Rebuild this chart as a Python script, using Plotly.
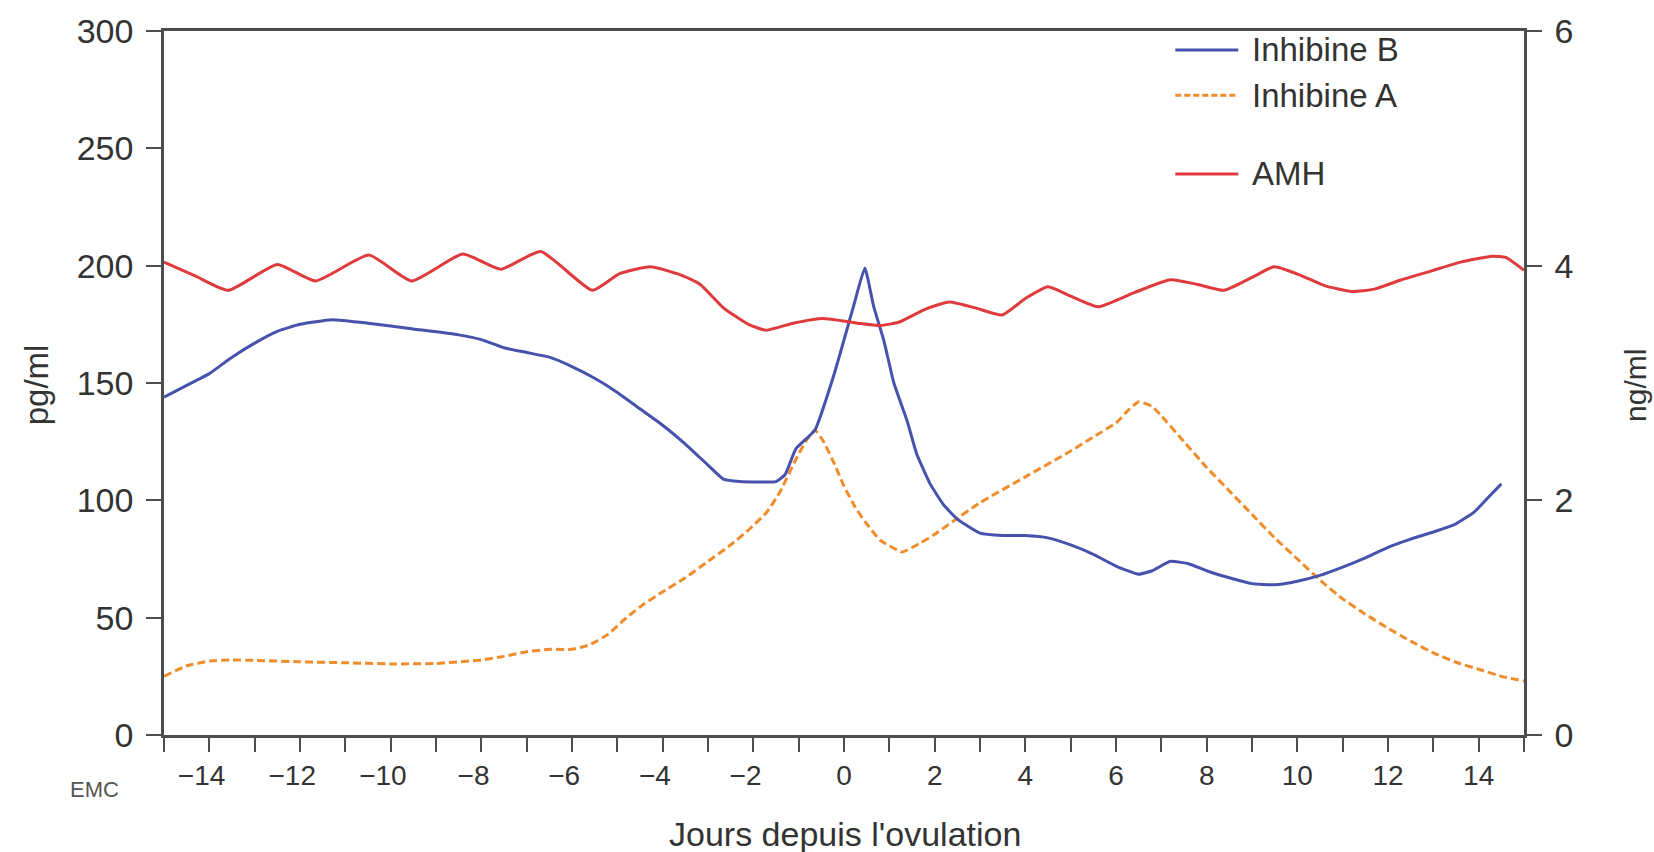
import plotly.graph_objects as go

# Days relative to ovulation and measured concentrations
inhb_days = [-15, -14.5, -14, -13.5, -13, -12.5, -12, -11.3, -10.5, -9.5, -8.5, -8, -7.5, -7,
             -6.5, -6, -5.5, -5, -4.5, -4, -3.5, -3, -2.66, -2.3, -1.5, -1.3, -1.06, -0.64,
             -0.22, 0.2, 0.46, 0.65, 0.88, 1.1, 1.39, 1.6, 1.9, 2.2, 2.5, 3.0, 3.5, 4.0, 4.5,
             5.0, 5.5, 6.0, 6.5, 6.8, 7.2, 7.6, 8.0, 8.5, 9.0, 9.5, 10.0, 10.5, 11.0, 11.5,
             12.0, 12.5, 13.0, 13.5, 13.9, 14.2, 14.5]
inhb_pgml = [144, 149, 154, 161, 167, 172, 175, 177, 175.5, 173, 170.5, 168.5, 165, 163,
             161, 157, 152, 146, 139, 132, 124, 115, 109, 108, 108, 111, 122, 130,
             153.6, 182, 199, 183, 168, 150, 134, 120, 107, 98, 92, 86, 85, 85, 84,
             81, 77, 72, 68.5, 70, 74, 73, 70, 67, 64.5, 64, 65.5, 68, 71.5, 75.5,
             80, 83.5, 86.5, 90, 95, 101, 107]

inha_days = [-15, -14.5, -14, -13.5, -13, -12, -11, -10, -9, -8, -7.5, -7, -6.5, -6, -5.6,
             -5.2, -4.8, -4.4, -4, -3.5, -3, -2.5, -2.07, -1.7, -1.4, -1.1, -0.85, -0.64,
             -0.45, -0.2, 0.0, 0.25, 0.46, 0.8, 1.28, 1.7, 2.0, 2.4, 3.0, 4.0, 5.0, 5.5,
             6.0, 6.3, 6.5, 6.8, 7.0, 7.5, 8.0, 8.5, 9.0, 9.5, 10.0, 10.5, 11.0, 11.5,
             12.0, 12.5, 13.0, 13.5, 14.0, 14.5, 15.0]
inha_pgml = [25, 29.5, 31.5, 32, 31.8, 31.2, 30.8, 30.3, 30.5, 32, 33.5, 35.5, 36.5, 36.5, 38.5,
             43, 50, 56, 61, 67, 74, 81, 88, 95, 104, 116, 125, 130,
             125, 115, 106, 97, 91, 83, 78, 82, 85.5, 91, 99, 110, 121, 127,
             133, 139, 142, 140, 136, 125, 114, 104, 94, 84, 75, 66, 58, 51.5,
             45.5, 40, 35, 31, 28, 25, 23]

amh_days = [-15, -14.3, -13.58, -12.5, -11.66, -10.48, -9.54, -8.41, -7.57, -6.69, -5.55,
            -4.96, -4.27, -3.59, -3.17, -2.66, -2.11, -1.72, -1.12, -0.47, 0.3, 0.8, 1.22,
            1.8, 2.32, 2.9, 3.49, 4.0, 4.5, 5.0, 5.6, 6.4, 7.2, 7.8, 8.38, 9.0, 9.49, 10.06,
            10.6, 11.2, 11.7, 12.3, 13.0, 13.6, 14.3, 14.6, 15.0]
amh_ngml = [4.03, 3.91, 3.79, 4.01, 3.87, 4.09, 3.87, 4.10, 3.97, 4.12, 3.79,
            3.93, 3.99, 3.92, 3.84, 3.64, 3.50, 3.45, 3.51, 3.55, 3.51, 3.49, 3.52,
            3.63, 3.69, 3.64, 3.58, 3.72, 3.82, 3.74, 3.65, 3.77, 3.88, 3.84, 3.79, 3.90, 3.99, 3.92,
            3.83, 3.78, 3.80, 3.88, 3.96, 4.03, 4.08, 4.07, 3.96]

series_names = ["Inhibine B", "Inhibine A", "AMH"]
x_tickvals = [-14, -12, -10, -8, -6, -4, -2, 0, 2, 4, 6, 8, 10, 12, 14]
# Negative labels are centred on their digits, so the minus sign hangs to the left
x_ticktext = [("\u2212%d\u00a0\u00a0" % -v) if v < 0 else str(v) for v in x_tickvals]

BLUE = "#4652ad"
ORANGE = "#ef8c2c"
RED = "#e03a3c"
AXIS = "#4d4d4d"
TEXT = "#333333"
FONT = "Liberation Sans, Arial, sans-serif"

fig = go.Figure()
fig.add_trace(go.Scatter(x=inha_days, y=inha_pgml, mode="lines", name=series_names[1],
                         line=dict(color=ORANGE, width=3, dash="8px,4px", shape="spline", smoothing=0.4),
                         showlegend=False))
fig.add_trace(go.Scatter(x=inhb_days, y=inhb_pgml, mode="lines", name=series_names[0],
                         line=dict(color=BLUE, width=3, shape="spline", smoothing=0.4),
                         showlegend=False))
fig.add_trace(go.Scatter(x=amh_days, y=amh_ngml, mode="lines", name=series_names[2], yaxis="y2",
                         line=dict(color=RED, width=3, shape="spline", smoothing=0.5),
                         showlegend=False))

fig.update_layout(
    width=1654, height=852,
    margin=dict(l=164, r=130, t=28, b=117),
    paper_bgcolor="white", plot_bgcolor="white",
    xaxis=dict(range=[-15, 15], tickmode="array", tickvals=x_tickvals, ticktext=x_ticktext,
               ticks="outside", ticklen=14, tickwidth=2, tickcolor=AXIS,
               minor=dict(dtick=1, tick0=0, ticks="outside", ticklen=14, tickwidth=2, tickcolor=AXIS),
               showline=True, linecolor=AXIS, linewidth=2.5, mirror=True,
               showgrid=False, zeroline=False,
               tickfont=dict(family=FONT, size=28, color=TEXT)),
    yaxis=dict(range=[0, 300], dtick=50, ticks="outside", ticklen=15, tickwidth=2, tickcolor=AXIS,
               showline=True, linecolor=AXIS, linewidth=2.5, showgrid=False, zeroline=False,
               ticklabelstandoff=6,
               tickfont=dict(family=FONT, size=34, color=TEXT)),
    yaxis2=dict(range=[0, 6], dtick=2, overlaying="y", side="right",
                ticks="outside", ticklen=15, tickwidth=2, tickcolor=AXIS,
                showline=True, linecolor=AXIS, linewidth=2.5, showgrid=False, zeroline=False,
                ticklabelstandoff=6,
                tickfont=dict(family=FONT, size=34, color=TEXT)),
)

# Axis titles and logo
fig.add_annotation(text="Jours depuis l'ovulation", xref="paper", yref="paper", x=0.501, y=-0.14,
                   showarrow=False, xanchor="center", yanchor="middle",
                   font=dict(family=FONT, size=34, color=TEXT))
fig.add_annotation(text="pg/ml", xref="paper", yref="paper", x=-0.094, y=0.497, textangle=-90,
                   showarrow=False, xanchor="center", yanchor="middle",
                   font=dict(family=FONT, size=33, color=TEXT))
fig.add_annotation(text="ng/ml", xref="paper", yref="paper", x=1.0815, y=0.497, textangle=-90,
                   showarrow=False, xanchor="center", yanchor="middle",
                   font=dict(family=FONT, size=30, color=TEXT))
fig.add_annotation(text="EMC", xref="paper", yref="paper", x=-0.051, y=-0.078,
                   showarrow=False, xanchor="center", yanchor="middle",
                   font=dict(family=FONT, size=22, color="#555555"))

# Legend drawn as line samples with labels
legend_rows = [(0.9731, BLUE, "solid"), (0.9087, ORANGE, "dash"), (0.7969, RED, "solid")]
for (ypos, color, dash), label in zip(legend_rows, series_names):
    fig.add_shape(type="line", xref="paper", yref="paper", x0=0.7436, x1=0.7899, y0=ypos, y1=ypos,
                  line=dict(color=color, width=3, dash="6px,3px" if dash == "dash" else "solid"))
    fig.add_annotation(text=label, xref="paper", yref="paper", x=0.7987, y=ypos,
                       showarrow=False, xanchor="left", yanchor="middle",
                       font=dict(family=FONT, size=33, color=TEXT))

fig.write_html("out.html")
